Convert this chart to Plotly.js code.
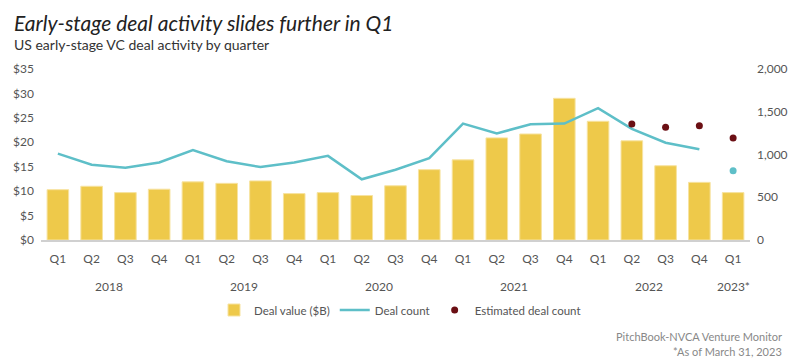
<!DOCTYPE html>
<html>
<head>
<meta charset="utf-8">
<script src="https://cdn.plot.ly/plotly-3.0.1.min.js"></script>
<style>html,body{margin:0;padding:0;background:#fff;}#chart{width:800px;height:363px;}</style>
</head>
<body>
<div id="chart"></div>
<script>
const quarters = ["Q1","Q2","Q3","Q4","Q1","Q2","Q3","Q4","Q1","Q2","Q3","Q4","Q1","Q2","Q3","Q4","Q1","Q2","Q3","Q4","Q1"];
const yearLabels = ["2018","2019","2020","2021","2022","2023*"];
const yearCenters = [1.5, 5.5, 9.5, 13.5, 17.5, 20];
const dealValue = [10.3, 11.0, 9.7, 10.4, 11.9, 11.6, 12.1, 9.5, 9.7, 9.1, 11.1, 14.4, 16.4, 20.9, 21.7, 29.0, 24.3, 20.3, 15.2, 11.8, 9.7];
const dealCount = [1010, 880, 845, 906, 1053, 922, 853, 906, 984, 710, 822, 957, 1362, 1246, 1354, 1362, 1543, 1300, 1138, 1061, 810];
const estimatedCount = [null,null,null,null,null,null,null,null,null,null,null,null,null,null,null,null,null,1358,1319,1335,1192];
</script>
<script>
const n = quarters.length;
const idx = quarters.map((q,i)=>i);
const lineN = n - 1;
const FONT = "Lato, 'Noto Sans', sans-serif";
const traces = [
  {type:'bar', x: idx, y: dealValue, name:'Deal value ($B)', marker:{color:'#EEC94A', line:{color:'#F7E3A0', width:1}}, yaxis:'y', hoverinfo:'skip'},
  {type:'scatter', mode:'lines', x: idx.slice(0,lineN), y: dealCount.slice(0,lineN), name:'Deal count', line:{color:'#5EBFC8', width:2.5}, yaxis:'y2'},
  {type:'scatter', mode:'markers', x: idx.slice(lineN), y: dealCount.slice(lineN), showlegend:false, marker:{color:'#5EBFC8', size:7}, yaxis:'y2'},
  {type:'scatter', mode:'markers', x: idx, y: estimatedCount, name:'Estimated deal count', marker:{color:'#6B0F14', size:7}, yaxis:'y2'}
];
const annotations = yearLabels.map((t,i)=>({text:t, x: yearCenters[i], xref:'x', y:0, yref:'paper', yanchor:'top', yshift:-37, showarrow:false, font:{family:FONT, size:12, color:'#555'}}));
annotations.push({text:'<i>Early-stage deal activity slides further in Q1</i>', xref:'paper', yref:'paper', x:(12-41)/709, y:(240-8)/171, xanchor:'left', yanchor:'top', showarrow:false, font:{family:FONT, size:21, color:'#222'}});
annotations.push({text:'US early-stage VC deal activity by quarter', xref:'paper', yref:'paper', x:(12-41)/709, y:(240-34)/171, xanchor:'left', yanchor:'top', showarrow:false, font:{family:FONT, size:14, color:'#333'}});
annotations.push({text:'PitchBook-NVCA Venture Monitor', xref:'paper', yref:'paper', x:(784-41)/709, y:(240-328)/171, xanchor:'right', yanchor:'top', showarrow:false, font:{family:FONT, size:11, color:'#888'}});
annotations.push({text:'*As of March 31, 2023', xref:'paper', yref:'paper', x:(784-41)/709, y:(240-343)/171, xanchor:'right', yanchor:'top', showarrow:false, font:{family:FONT, size:11, color:'#888'}});
const layout = {
  width:800, height:363,
  margin:{l:41, r:50, t:69, b:123},
  paper_bgcolor:'#fff', plot_bgcolor:'#fff',
  font:{family:FONT, color:'#555', size:12},
  bargap:0.36,
  showlegend:true,
  legend:{orientation:'h', x:0.5, xanchor:'center', xref:'container', y:1-310/363, yref:'container', yanchor:'middle', font:{family:FONT, size:11.5, color:'#555'}, itemwidth:30, traceorder:'normal'},
  xaxis:{range:[-0.5, n-0.5], tickmode:'array', tickvals: idx, ticktext: quarters, showgrid:false, zeroline:false, showline:true, linecolor:'#D0D0D0', linewidth:1.5, ticks:'', ticklabelstandoff:7, tickfont:{size:12, color:'#555'}, fixedrange:true},
  yaxis:{range:[0,35], dtick:5, tickprefix:'$', showgrid:false, zeroline:false, showline:false, ticks:'', ticklabelstandoff:6, tickfont:{size:12, color:'#555'}},
  yaxis2:{range:[0,2000], dtick:500, tickformat:',d', overlaying:'y', side:'right', showgrid:false, zeroline:false, showline:false, ticks:'', ticklabelstandoff:6, tickfont:{size:12, color:'#555'}},
  annotations: annotations
};
Plotly.newPlot('chart', traces, layout, {displayModeBar:false, staticPlot:true});
</script>
</body>
</html>
